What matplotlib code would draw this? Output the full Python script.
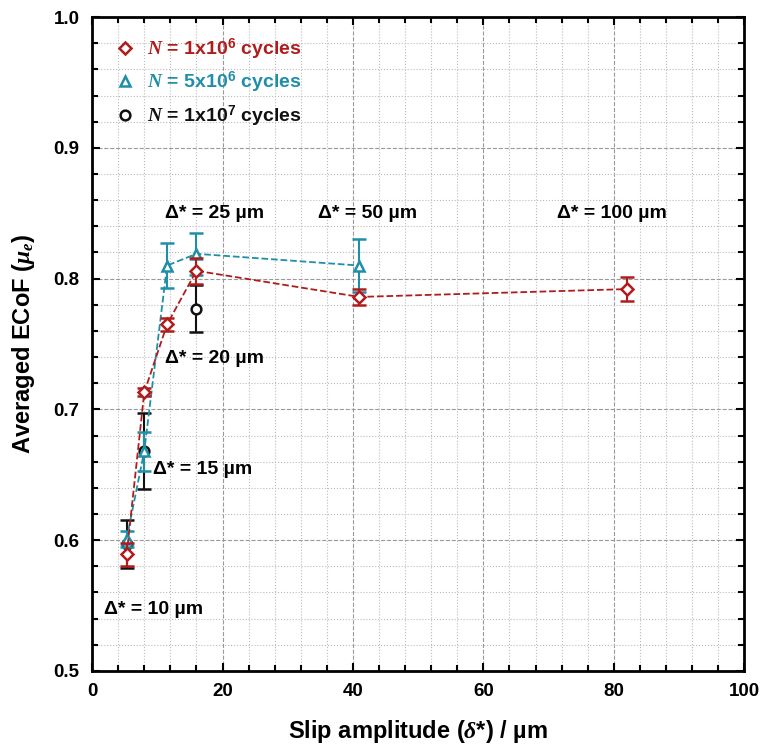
import matplotlib
matplotlib.use("Agg")
import matplotlib.pyplot as plt
from matplotlib.ticker import MultipleLocator
from matplotlib.lines import Line2D

plt.rcParams['font.family'] = ['Liberation Sans', 'DejaVu Sans']
plt.rcParams['font.weight'] = 'bold'
plt.rcParams['mathtext.fontset'] = 'custom'
plt.rcParams['mathtext.rm'] = 'Liberation Sans:bold'
plt.rcParams['mathtext.it'] = 'Liberation Serif:italic:bold'
plt.rcParams['mathtext.bf'] = 'Liberation Sans:bold'

# data
x_1e6 = [5.3, 8.0, 11.5, 16.0, 41.0, 82.0]
y_1e6 = [0.589, 0.713, 0.765, 0.806, 0.786, 0.792]
e_1e6 = [0.009, 0.003, 0.005, 0.010, 0.006, 0.009]

x_5e6 = [5.3, 8.0, 11.5, 16.0, 41.0]
y_5e6 = [0.601, 0.668, 0.810, 0.819, 0.810]
e_5e6 = [0.006, 0.015, 0.017, 0.016, 0.020]

x_1e7 = [5.3, 8.0, 16.0]
y_1e7 = [0.597, 0.668, 0.777]
e_1e7 = [0.018, 0.029, 0.018]

labels_amp = ['Δ* = 10 µm', 'Δ* = 15 µm', 'Δ* = 20 µm',
              'Δ* = 25 µm', 'Δ* = 50 µm', 'Δ* = 100 µm']
label_x = [1.8, 9.4, 11.2, 11.2, 34.7, 71.3]
label_y = [0.547, 0.654, 0.739, 0.85, 0.85, 0.85]

red = '#B01C1C'
teal = '#1F8FA8'
black = '#111111'

fig = plt.figure(figsize=(7.61, 7.47), dpi=100)
ax = fig.add_axes([0.121, 0.102, 0.857, 0.875])

ax.errorbar(x_1e6, y_1e6, yerr=e_1e6, color=red, ls='--', lw=1.3, marker='D',
            ms=6, mfc='white', mec=red, mew=1.8, capsize=5, elinewidth=1.5, zorder=4)
ax.errorbar(x_5e6, y_5e6, yerr=e_5e6, color=teal, ls='--', lw=1.3, marker='^',
            ms=7, mfc='white', mec=teal, mew=1.8, capsize=5, elinewidth=1.5, zorder=3)
ax.errorbar(x_1e7, y_1e7, yerr=e_1e7, color=black, ls='none', marker='o',
            ms=7, mfc='white', mec=black, mew=1.8, capsize=5, elinewidth=1.5, zorder=2)

for t, xx, yy in zip(labels_amp, label_x, label_y):
    ax.text(xx, yy, t, fontsize=14, fontweight='bold', ha='left', va='center')

ax.set_xlim(0, 100)
ax.set_ylim(0.5, 1.0)
ax.xaxis.set_major_locator(MultipleLocator(20))
ax.xaxis.set_minor_locator(MultipleLocator(4))
ax.yaxis.set_major_locator(MultipleLocator(0.1))
ax.yaxis.set_minor_locator(MultipleLocator(0.02))
ax.grid(which='major', ls='--', color='#999999', lw=0.8)
ax.grid(which='minor', ls=':', color='#bbbbbb', lw=0.8)
ax.set_axisbelow(True)
ax.tick_params(which='both', direction='in', top=True, right=True, width=1.5)
ax.tick_params(which='major', length=6, labelsize=13.5, pad=9)
ax.tick_params(which='minor', length=4)
for s in ax.spines.values():
    s.set_linewidth(2)
for lab in ax.get_xticklabels() + ax.get_yticklabels():
    lab.set_fontweight('bold')

ax.set_xlabel(r'Slip amplitude ($\mathit{\delta}$*) / µm', fontsize=17, fontweight='bold', labelpad=13)
ax.set_ylabel(r'Averaged ECoF ($\mathit{\mu_e}$)', fontsize=17, fontweight='bold', labelpad=12)

handles = [
    Line2D([], [], ls='none', marker='D', ms=6, mfc='white', mec=red, mew=1.8),
    Line2D([], [], ls='none', marker='^', ms=7, mfc='white', mec=teal, mew=1.8),
    Line2D([], [], ls='none', marker='o', ms=7, mfc='white', mec=black, mew=1.8),
]
leg_labels = [r'$\mathit{N}$ = 1x10$^{6}$ cycles',
              r'$\mathit{N}$ = 5x10$^{6}$ cycles',
              r'$\mathit{N}$ = 1x10$^{7}$ cycles']
leg = ax.legend(handles, leg_labels, loc='upper left', frameon=False, fontsize=14,
                handlelength=1.0, handletextpad=0.6, labelspacing=0.42,
                borderaxespad=0.5, borderpad=0.5)
leg.set_bbox_to_anchor((0.006, 1.0), transform=ax.transAxes)
for txt, c in zip(leg.get_texts(), [red, teal, black]):
    txt.set_color(c)
    txt.set_fontweight('bold')

fig.savefig('out.png', dpi=100)
